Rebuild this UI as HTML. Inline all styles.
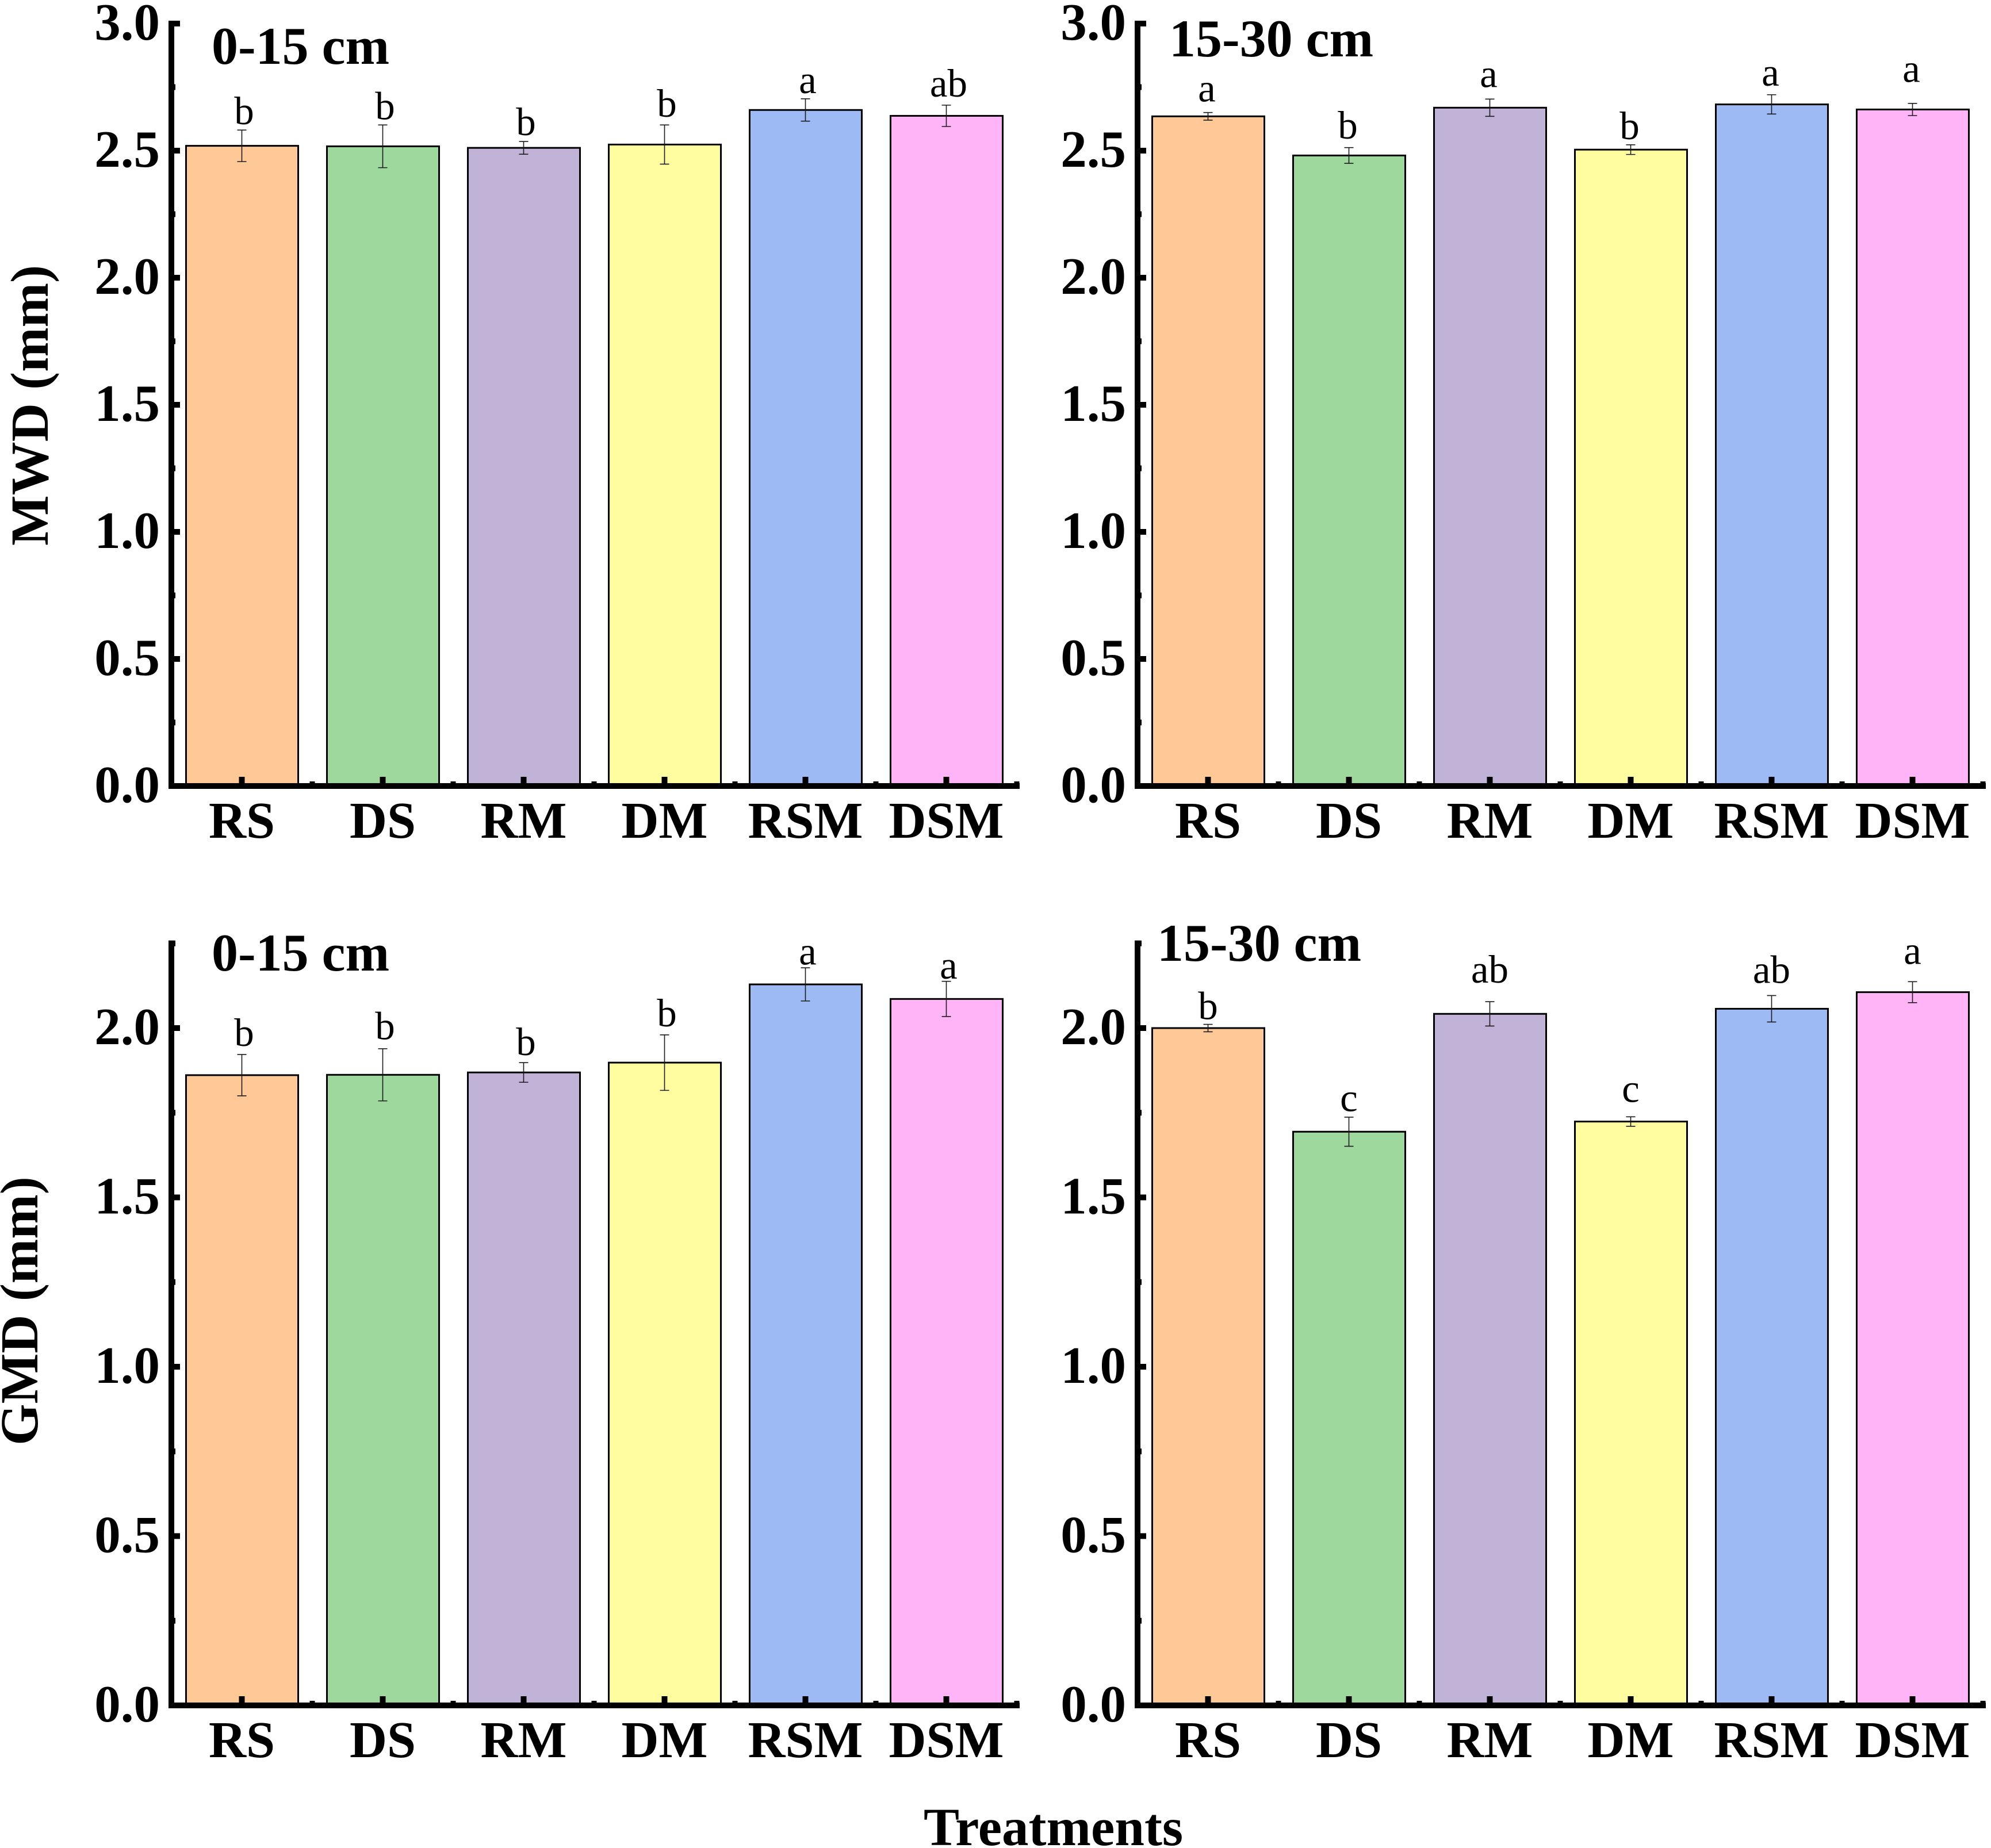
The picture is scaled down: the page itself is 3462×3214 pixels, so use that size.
<!DOCTYPE html>
<html lang="en">
<head>
<meta charset="utf-8">
<title>MWD and GMD by treatment and soil depth</title>
<style>
  html, body { margin: 0; padding: 0; background: #ffffff; }
  svg { display: block; }
  text { font-family: "Liberation Serif", "Times New Roman", serif; fill: #000000; }
  .bold { font-weight: 700; font-size: 93px; }
  .title { font-weight: 700; font-size: 92px; }
  .tick { font-weight: 700; font-size: 90px; }
  .ytick { font-weight: 700; font-size: 91px; }
  .letter { font-weight: 400; font-size: 69px; text-anchor: middle; }
</style>
</head>
<body>
<svg id="figure" xmlns="http://www.w3.org/2000/svg" width="3462" height="3214" viewBox="0 0 3462 3214">
  <rect x="0" y="0" width="3462" height="3214" fill="#ffffff"/>
  <text class="bold" transform="translate(83 705) rotate(-90)" text-anchor="middle">MWD (mm)</text>
  <text class="bold" transform="translate(65 2280) rotate(-90)" text-anchor="middle">GMD (mm)</text>
  <text class="bold" x="1606" y="3209">Treatments</text>
  <text class="title" x="368" y="111">0-15 cm</text>
  <text class="title" x="2033" y="98">15-30 cm</text>
  <text class="title" x="368" y="1688">0-15 cm</text>
  <text class="title" x="2012" y="1671">15-30 cm</text>
</svg>
<script>
// Shared categories and tick labels
const categories = ['RS', 'DS', 'RM', 'DM', 'RSM', 'DSM'];
const mwdTicks = ['0.0', '0.5', '1.0', '1.5', '2.0', '2.5', '3.0'];
const gmdTicks = ['0.0', '0.5', '1.0', '1.5', '2.0'];

// MWD, 0-15 cm
const mwdShallowValues = [2.519, 2.517, 2.511, 2.524, 2.660, 2.637];
const mwdShallowErrors = [0.062, 0.084, 0.025, 0.077, 0.044, 0.042];
const mwdShallowLetters = ['b', 'b', 'b', 'b', 'a', 'ab'];
const mwdShallowLetterPad = [0.023, 0.022, 0.025, 0.032, 0.022, 0.034];

// MWD, 15-30 cm
const mwdDeepValues = [2.635, 2.481, 2.669, 2.504, 2.682, 2.662];
const mwdDeepErrors = [0.015, 0.031, 0.034, 0.019, 0.038, 0.024];
const mwdDeepLetters = ['a', 'b', 'a', 'b', 'a', 'a'];
const mwdDeepLetterPad = [0.043, 0.036, 0.047, 0.022, 0.036, 0.084];

// GMD, 0-15 cm
const gmdShallowValues = [1.861, 1.862, 1.869, 1.898, 2.129, 2.086];
const gmdShallowErrors = [0.061, 0.077, 0.029, 0.082, 0.049, 0.052];
const gmdShallowLetters = ['b', 'b', 'b', 'b', 'a', 'a'];
const gmdShallowLetterPad = [0.025, 0.028, 0.022, 0.025, 0.010, 0.008];

// GMD, 15-30 cm
const gmdDeepValues = [2.000, 1.694, 2.042, 1.724, 2.057, 2.106];
const gmdDeepErrors = [0.011, 0.043, 0.036, 0.014, 0.039, 0.031];
const gmdDeepLetters = ['b', 'c', 'ab', 'c', 'ab', 'a'];
const gmdDeepLetterPad = [0.015, 0.018, 0.056, 0.044, 0.037, 0.052];

const barColors = ['#FFC897', '#9FD89C', '#C1B3D7', '#FFFD9F', '#9DBAF4', '#FFB4F8'];

const NS = 'http://www.w3.org/2000/svg';
const figure = document.getElementById('figure');
const BAND = 245;

function make(tag, attrs, parent) {
  const el = document.createElementNS(NS, tag);
  Object.keys(attrs).forEach(function (k) { el.setAttribute(k, attrs[k]); });
  parent.appendChild(el);
  return el;
}

function drawPanel(key, left, y0, pxPerUnit, yMax, ticks, values, errors, letters, pads, letterShift) {
  const xScale = function (i) { return left + BAND * (i + 0.5); };
  const yScale = function (v) { return y0 - v * pxPerUnit; };

  const g = make('g', {}, figure);
  
  

  categories.forEach(function (cat, i) {
    const top = yScale(values[i]);
    const bar = make('rect', {
      x: xScale(i) - 97, y: top, width: 195, height: y0 - top,
      fill: barColors[i], stroke: '#000000', 'stroke-width': 3
    }, g);
    
    
  });

  categories.forEach(function (cat, i) {
    const cx = xScale(i);
    const hi = yScale(values[i] + errors[i]);
    const lo = yScale(values[i] - errors[i]);
    const eb = make('path', {
      d: 'M' + cx + ' ' + hi + 'V' + lo + 'M' + (cx - 8) + ' ' + hi + 'H' + (cx + 8) + 'M' + (cx - 8) + ' ' + lo + 'H' + (cx + 8),
      fill: 'none', stroke: '#1a1a1a', 'stroke-width': 1.6
    }, g);
    
    

    const letter = make('text', {
      x: cx + letterShift,
      y: yScale(values[i] + errors[i] + pads[i]),
      class: 'letter'
    }, g);
    letter.textContent = letters[i];
    
    
  });

  // Axis lines
  const yAxis = make('rect', { x: left - 5, y: yScale(yMax) - 5, width: 10, height: y0 + 5 - (yScale(yMax) - 5), fill: '#000000' }, g);
  
  

  const xAxis = make('rect', { x: left - 5, y: y0 - 5, width: BAND * 6 + 10, height: 10, fill: '#000000' }, g);
  
  

  // Y ticks and labels
  ticks.forEach(function (label) {
    const v = parseFloat(label);
    const tick = make('rect', { x: left - 5, y: yScale(v) - 5, width: 20, height: 10, fill: '#000000' }, g);
    
    

    const txt = make('text', { x: left - 20, y: yScale(v) + 28, class: 'ytick', 'text-anchor': 'end' }, g);
    txt.textContent = label;
    
    

    if (v + 0.25 <= yMax) {
      const minor = make('rect', { x: left - 5, y: yScale(v + 0.25) - 5, width: 12, height: 10, fill: '#000000' }, g);
      
      
    }
  });

  // X ticks and labels
  categories.forEach(function (cat, i) {
    const major = make('rect', { x: xScale(i) - 5, y: y0 - 16, width: 10, height: 16, fill: '#000000' }, g);
    
    

    const minor = make('rect', { x: left + BAND * (i + 1) - 4.5, y: y0 - 8, width: 9, height: 8, fill: '#000000' }, g);
    
    

    const txt = make('text', { x: xScale(i), y: y0 + 90, class: 'tick', 'text-anchor': 'middle' }, g);
    txt.textContent = cat;
    
    
  });
}

drawPanel('mwd-0-15', 298, 1367, 442, 3.0, mwdTicks, mwdShallowValues, mwdShallowErrors, mwdShallowLetters, mwdShallowLetterPad, 4);
drawPanel('mwd-15-30', 1978, 1367, 442, 3.0, mwdTicks, mwdDeepValues, mwdDeepErrors, mwdDeepLetters, mwdDeepLetterPad, -2);
drawPanel('gmd-0-15', 298, 2966, 589, 2.25, gmdTicks, gmdShallowValues, gmdShallowErrors, gmdShallowLetters, gmdShallowLetterPad, 4);
drawPanel('gmd-15-30', 1978, 2966, 589, 2.25, gmdTicks, gmdDeepValues, gmdDeepErrors, gmdDeepLetters, gmdDeepLetterPad, 0);
</script>
</body>
</html>
